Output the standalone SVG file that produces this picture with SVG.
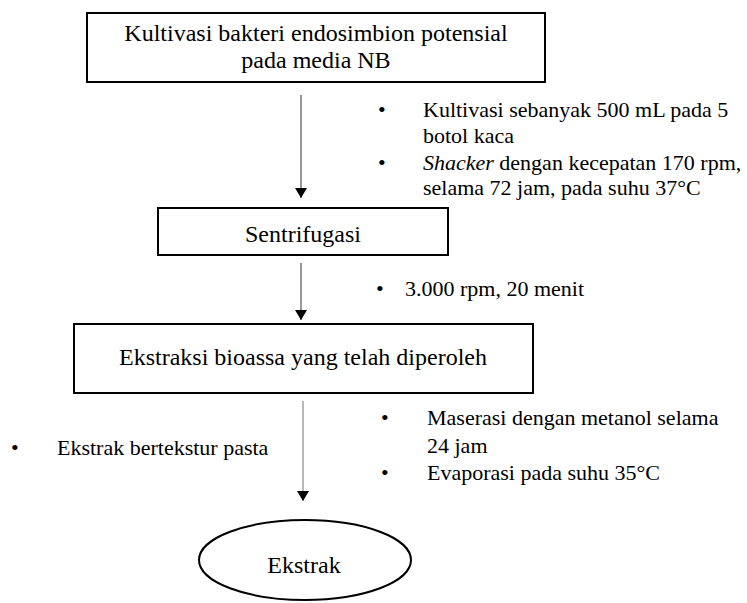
<svg xmlns="http://www.w3.org/2000/svg" width="747" height="603" viewBox="0 0 747 603">
  <defs>
    <marker id="ah" viewBox="0 0 10 12" refX="10" refY="6" markerWidth="10" markerHeight="12" markerUnits="userSpaceOnUse" orient="auto">
      <path d="M0,0 L10,6 L0,12 Z" fill="#000"/>
    </marker>
    <style>
      .box { fill: #fff; stroke: #000; stroke-width: 2; }
      .t { font-family: 'Liberation Serif', 'Times New Roman', serif; fill: #000; }
      .big { font-size: 24px; }
      .small { font-size: 22px; }
      .conn { stroke: #333; stroke-width: 1; fill: none; }
      .conn3 { stroke: #888; stroke-width: 1.2; fill: none; }
    </style>
  </defs>
  <rect width="747" height="603" fill="#fff"/>

  <g id="connectors">
    <line class="conn" x1="301" y1="95" x2="301" y2="198" marker-end="url(#ah)"/>
    <line class="conn" x1="301" y1="263" x2="301" y2="320" marker-end="url(#ah)"/>
    <line class="conn3" x1="303" y1="401" x2="303" y2="501" marker-end="url(#ah)"/>
  </g>

  <g id="node-kultivasi">
    <rect class="box" x="87" y="13" width="458" height="69"/>
    <text class="t big" x="316" y="41" text-anchor="middle">Kultivasi bakteri endosimbion potensial</text>
    <text class="t big" x="316" y="68" text-anchor="middle">pada media NB</text>
  </g>

  <g id="note-kultivasi">
    <text class="t small" x="378" y="117">•</text>
    <text class="t small" x="423" y="117">Kultivasi sebanyak 500 mL pada 5</text>
    <text class="t small" x="423" y="143">botol kaca</text>
    <text class="t small" x="378" y="170">•</text>
    <text class="t small" x="423" y="170"><tspan font-style="italic">Shacker</tspan> dengan kecepatan 170 rpm,</text>
    <text class="t small" x="423" y="195">selama 72 jam, pada suhu 37°C</text>
  </g>

  <g id="node-sentrifugasi">
    <rect class="box" x="158" y="208" width="290" height="47"/>
    <text class="t big" x="303" y="242" text-anchor="middle">Sentrifugasi</text>
  </g>

  <g id="note-sentrifugasi">
    <text class="t small" x="376" y="296">•</text>
    <text class="t small" x="405" y="296">3.000 rpm, 20 menit</text>
  </g>

  <g id="node-ekstraksi">
    <rect class="box" x="74" y="324" width="459" height="69"/>
    <text class="t big" x="303" y="365" text-anchor="middle">Ekstraksi bioassa yang telah diperoleh</text>
  </g>

  <g id="note-ekstraksi">
    <text class="t small" x="381" y="425">•</text>
    <text class="t small" x="427" y="425">Maserasi dengan metanol selama</text>
    <text class="t small" x="427" y="453">24 jam</text>
    <text class="t small" x="381" y="480">•</text>
    <text class="t small" x="427" y="480">Evaporasi pada suhu 35°C</text>
  </g>

  <g id="note-pasta">
    <text class="t small" x="11" y="455">•</text>
    <text class="t small" x="57" y="455">Ekstrak bertekstur pasta</text>
  </g>

  <g id="node-ekstrak">
    <ellipse class="box" cx="305" cy="560" rx="106" ry="40"/>
    <text class="t big" x="304" y="573" text-anchor="middle">Ekstrak</text>
  </g>
</svg>
